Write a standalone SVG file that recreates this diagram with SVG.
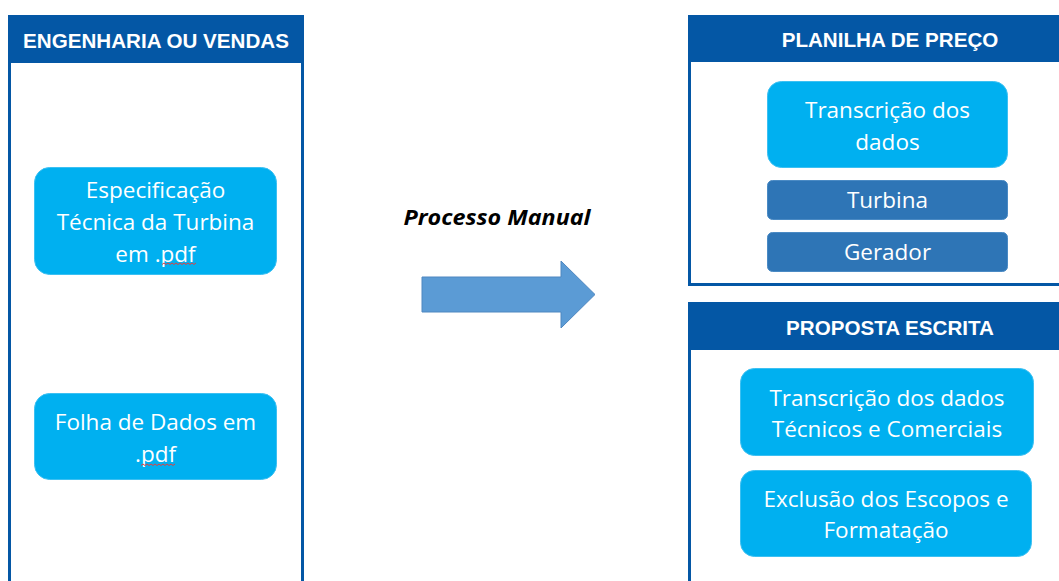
<svg xmlns="http://www.w3.org/2000/svg" width="1059" height="581" viewBox="0 0 1059 581">
<style>
.panel{fill:#fff;stroke:#0457A5;stroke-width:3}
.hdr{fill:#0457A5}
.htxt{font-family:"Liberation Sans",Arial,sans-serif;font-weight:bold;font-size:20.6px;fill:#fff;text-anchor:middle}
.lb{fill:#00B0F0;stroke:#3CC0F2;stroke-width:1}
.db{fill:#2E75B6;stroke:#4A8AC4;stroke-width:1}
.bt{font-family:"Open Sans","Noto Sans",sans-serif;font-size:22.5px;fill:#fff;text-anchor:middle}
.sq{fill:none;stroke:#E04040;stroke-width:1}
</style>
<rect width="1059" height="581" fill="#fff"/>
<g id="engenharia">
<rect class="panel" x="9.5" y="16.5" width="293" height="600"/>
<rect class="hdr" x="8" y="15" width="296" height="48"/>
<text class="htxt" x="156" y="48">ENGENHARIA OU VENDAS</text>
</g>
<g id="especificacao">
<rect class="lb" x="34.5" y="167.5" width="242" height="107" rx="15"/>
<text class="bt" x="155.5" y="198">Especificação</text>
<text class="bt" x="155.5" y="230">Técnica da Turbina</text>
<text class="bt" x="155.5" y="262">em .pdf</text>
<path class="sq" d="M162 264.5 l2 -1.5 l2 1.5 l2 -1.5 l2 1.5 l2 -1.5 l2 1.5 l2 -1.5 l2 1.5 l2 -1.5 l2 1.5 l2 -1.5 l2 1.5 l2 -1.5 l2 1.5 l2 -1.5 l2 1.5 l2 -1.5"/>
</g>
<g id="folha">
<rect class="lb" x="34.5" y="393.5" width="242" height="86" rx="15"/>
<text class="bt" x="155.5" y="430">Folha de Dados em</text>
<text class="bt" x="155.5" y="462">.pdf</text>
<path class="sq" d="M141 465.5 l2 -1.5 l2 1.5 l2 -1.5 l2 1.5 l2 -1.5 l2 1.5 l2 -1.5 l2 1.5 l2 -1.5 l2 1.5 l2 -1.5 l2 1.5 l2 -1.5 l2 1.5 l2 -1.5 l2 1.5 l2 -1.5"/>
</g>
<g id="connectors">
<text x="497" y="225" font-family="'Open Sans','Noto Sans',sans-serif" font-weight="bold" font-style="italic" font-size="21" fill="#000" text-anchor="middle" textLength="187" lengthAdjust="spacingAndGlyphs">Processo Manual</text>
<polygon points="422,277 561,277 561,261 595,294.5 561,328 561,312 422,312" fill="#5B9BD5" stroke="#4F87C0" stroke-width="1"/>
</g>
<g id="planilha">
<rect class="panel" x="689.5" y="16.5" width="400" height="268"/>
<rect class="hdr" x="688" y="15" width="380" height="47"/>
<text class="htxt" x="890" y="47">PLANILHA DE PREÇO</text>
</g>
<g id="transcricao">
<rect class="lb" x="767.5" y="81.5" width="240" height="86" rx="14"/>
<text class="bt" x="887.5" y="118">Transcrição dos</text>
<text class="bt" x="887.5" y="150">dados</text>
</g>
<g id="turbina">
<rect class="db" x="767.5" y="180.5" width="240" height="39" rx="5"/>
<text class="bt" x="887.5" y="208">Turbina</text>
</g>
<g id="gerador">
<rect class="db" x="767.5" y="232.5" width="240" height="39" rx="5"/>
<text class="bt" x="887.5" y="260">Gerador</text>
</g>
<g id="proposta">
<rect class="panel" x="689.5" y="303.5" width="400" height="320"/>
<rect class="hdr" x="688" y="302" width="380" height="48"/>
<text class="htxt" x="890" y="335">PROPOSTA ESCRITA</text>
</g>
<g id="transcricao-tecnicos">
<rect class="lb" x="740.5" y="368.5" width="293" height="87" rx="14"/>
<text class="bt" x="887" y="406">Transcrição dos dados</text>
<text class="bt" x="887" y="437">Técnicos e Comerciais</text>
</g>
<g id="exclusao">
<rect class="lb" x="740.5" y="470.5" width="291" height="86" rx="14"/>
<text class="bt" x="886" y="507">Exclusão dos Escopos e</text>
<text class="bt" x="886" y="538">Formatação</text>
</g>
</svg>
